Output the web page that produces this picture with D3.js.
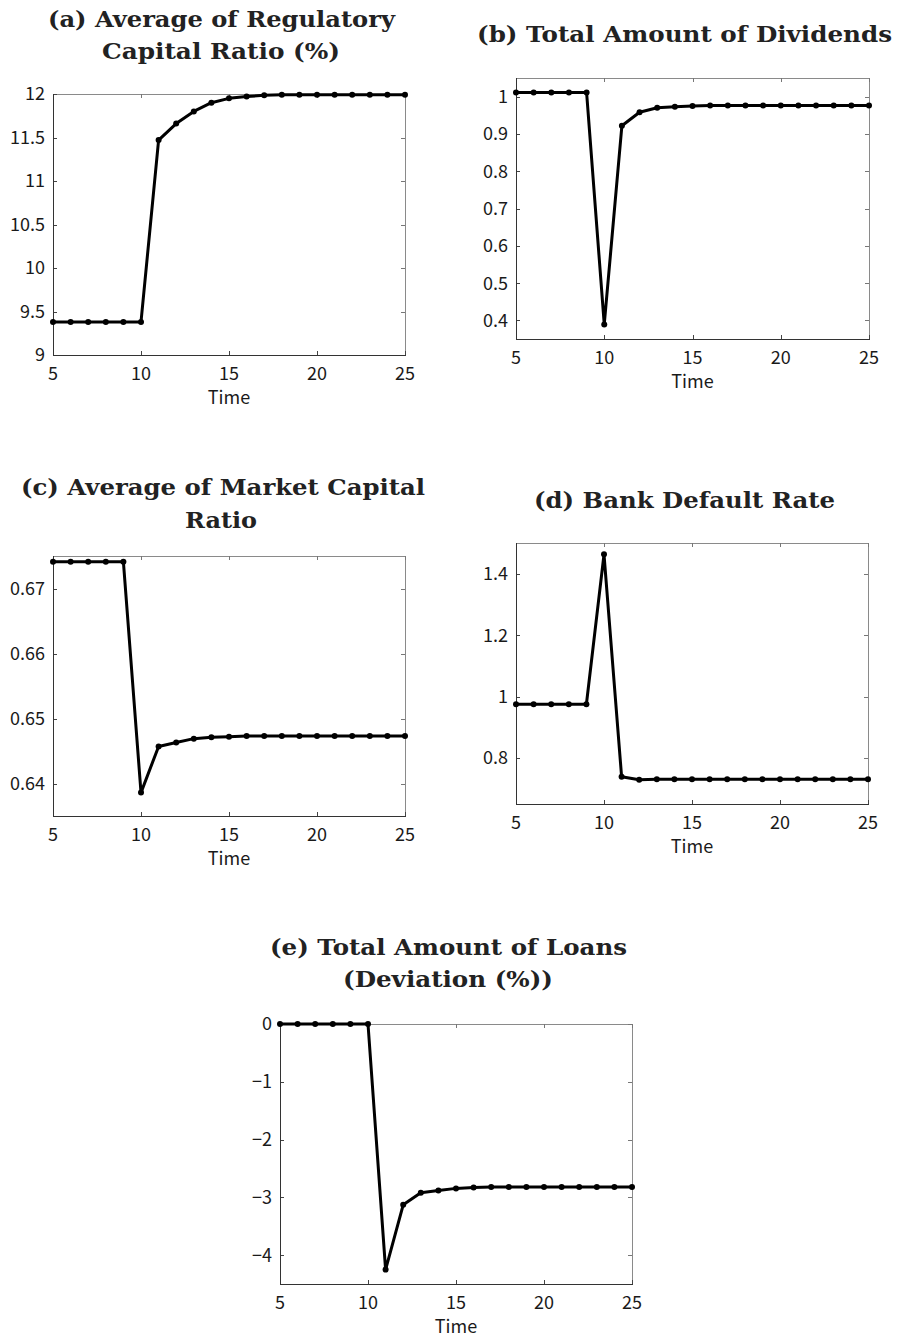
<!DOCTYPE html>
<html>
<head>
<meta charset="utf-8">
<script src="https://cdn.jsdelivr.net/npm/d3@7"></script>
<style>
  html, body { margin: 0; padding: 0; background: #fff; }
  svg { display: block; }
  .tick-label { font-family: "Noto Sans CJK JP", "Noto Sans", sans-serif; font-size: 18px; fill: #1a1a1a; }
  .title { font-family: "DejaVu Serif", serif; font-weight: bold; font-size: 23px; fill: #222; }
</style>
</head>
<body>
<svg id="chart" width="897" height="1341"></svg>
<script>
// ---------- data ----------
const time = [5,6,7,8,9,10,11,12,13,14,15,16,17,18,19,20,21,22,23,24,25];
const regCapitalRatio = [9.38,9.38,9.38,9.38,9.38,9.38,11.47,11.66,11.80,11.90,11.95,11.97,11.985,11.99,11.99,11.99,11.99,11.99,11.99,11.99,11.99];
const dividends = [1.011,1.011,1.011,1.011,1.011,0.389,0.922,0.958,0.970,0.973,0.975,0.976,0.976,0.976,0.976,0.976,0.976,0.976,0.976,0.976,0.976];
const marketCapitalRatio = [0.6741,0.6741,0.6741,0.6741,0.6741,0.6386,0.6457,0.6463,0.6469,0.6471,0.6472,0.6473,0.6473,0.6473,0.6473,0.6473,0.6473,0.6473,0.6473,0.6473,0.6473];
const defaultRate = [0.975,0.975,0.975,0.975,0.975,1.463,0.739,0.729,0.731,0.731,0.731,0.731,0.731,0.731,0.731,0.731,0.731,0.731,0.731,0.731,0.731];
const loansDeviation = [0,0,0,0,0,0,-4.25,-3.13,-2.92,-2.88,-2.845,-2.83,-2.82,-2.82,-2.82,-2.82,-2.82,-2.82,-2.82,-2.82,-2.82];

const xTicks = [5,10,15,20,25];
const ticksA = [9,9.5,10,10.5,11,11.5,12];
const ticksB = [0.4,0.5,0.6,0.7,0.8,0.9,1];
const ticksC = [0.64,0.65,0.66,0.67];
const ticksD = [0.8,1,1.2,1.4];
const ticksE = [-4,-3,-2,-1,0];

const titleA = ["(a) Average of Regulatory", "Capital Ratio (%)"];
const titleB = ["(b) Total Amount of Dividends"];
const titleC = ["(c) Average of Market Capital", "Ratio"];
const titleD = ["(d) Bank Default Rate"];
const titleE = ["(e) Total Amount of Loans", "(Deviation (%))"];
const xLabel = "Time";

// ---------- layout ----------
const panels = [
  {values: regCapitalRatio, yDomain:[9,12], yTicks: ticksA, title: titleA,
   box:{x0:53,x1:405,y0:94,y1:355}, tl:[{cx:221.5,by:27,w:347},{cx:221,by:59,w:238}]},
  {values: dividends, yDomain:[0.35,1.05], yTicks: ticksB, title: titleB,
   box:{x0:516,x1:869,y0:78,y1:339}, tl:[{cx:684.5,by:42,w:415}]},
  {values: marketCapitalRatio, yDomain:[0.635,0.675], yTicks: ticksC, title: titleC,
   box:{x0:53,x1:405,y0:556,y1:816}, tl:[{cx:223,by:495,w:404},{cx:221,by:528,w:72}]},
  {values: defaultRate, yDomain:[0.65,1.5], yTicks: ticksD, title: titleD,
   box:{x0:516,x1:868,y0:543,y1:804}, tl:[{cx:684.5,by:508,w:301}]},
  {values: loansDeviation, yDomain:[-4.5,0], yTicks: ticksE, title: titleE,
   box:{x0:280,x1:632,y0:1024,y1:1284}, tl:[{cx:448.5,by:955,w:357},{cx:448,by:987,w:210}]}
];

const svg = d3.select("#chart");
const fmt = d => d3.format("~g")(d).replace("-", "\u2212");
const tickLen = 4;

panels.forEach(p => {
  const b = p.box;
  const x = d3.scaleLinear().domain([5,25]).range([b.x0,b.x1]);
  const y = d3.scaleLinear().domain(p.yDomain).range([b.y1,b.y0]);
  const g = svg.append("g");

  g.append("line").attr("x1",b.x0).attr("x2",b.x1).attr("y1",b.y0+0.5).attr("y2",b.y0+0.5)
    .attr("stroke","#8a8a8a").attr("stroke-width",1);
  g.append("line").attr("x1",b.x1+0.5).attr("x2",b.x1+0.5).attr("y1",b.y0).attr("y2",b.y1)
    .attr("stroke","#8a8a8a").attr("stroke-width",1);

  xTicks.forEach(t => {
    const xx = Math.round(x(t))+0.5;
    g.append("line").attr("x1",xx).attr("x2",xx).attr("y1",b.y1).attr("y2",b.y1-tickLen).attr("stroke","#444");
    g.append("line").attr("x1",xx).attr("x2",xx).attr("y1",b.y0).attr("y2",b.y0+tickLen).attr("stroke","#777");
    g.append("text").attr("class","tick-label").attr("x",x(t)).attr("y",b.y1+25)
      .attr("text-anchor","middle").text(fmt(t));
  });
  p.yTicks.forEach(t => {
    const yy = Math.round(y(t))+0.5;
    g.append("line").attr("x1",b.x0).attr("x2",b.x0+tickLen).attr("y1",yy).attr("y2",yy).attr("stroke","#444");
    g.append("line").attr("x1",b.x1).attr("x2",b.x1-tickLen).attr("y1",yy).attr("y2",yy).attr("stroke","#777");
    g.append("text").attr("class","tick-label").attr("x",b.x0-8).attr("y",y(t))
      .attr("dy","0.36em").attr("text-anchor","end").text(fmt(t));
  });

  g.append("line").attr("x1",b.x0+0.5).attr("x2",b.x0+0.5).attr("y1",b.y0).attr("y2",b.y1+0.5)
    .attr("stroke","#333").attr("stroke-width",1);
  g.append("line").attr("x1",b.x0).attr("x2",b.x1+1).attr("y1",b.y1+0.5).attr("y2",b.y1+0.5)
    .attr("stroke","#333").attr("stroke-width",1);

  g.append("text").attr("class","tick-label").attr("x",(b.x0+b.x1)/2).attr("y",b.y1+49)
    .attr("text-anchor","middle").text(xLabel);

  const data = time.map((t,i) => [t, p.values[i]]);
  g.append("path").datum(data)
    .attr("d", d3.line().x(d => x(d[0])).y(d => y(d[1])))
    .attr("fill","none").attr("stroke","#000").attr("stroke-width",3).attr("stroke-linejoin","round");
  g.selectAll("circle.m").data(data).enter().append("circle")
    .attr("cx", d => x(d[0])).attr("cy", d => y(d[1])).attr("r",3).attr("fill","#000");

  p.title.forEach((line,i) => {
    const t = p.tl[i];
    g.append("text").attr("class","title").attr("x",t.cx).attr("y",t.by)
      .attr("text-anchor","middle")
      .attr("textLength", t.w).attr("lengthAdjust","spacingAndGlyphs")
      .text(line);
  });
});
</script>
</body>
</html>
